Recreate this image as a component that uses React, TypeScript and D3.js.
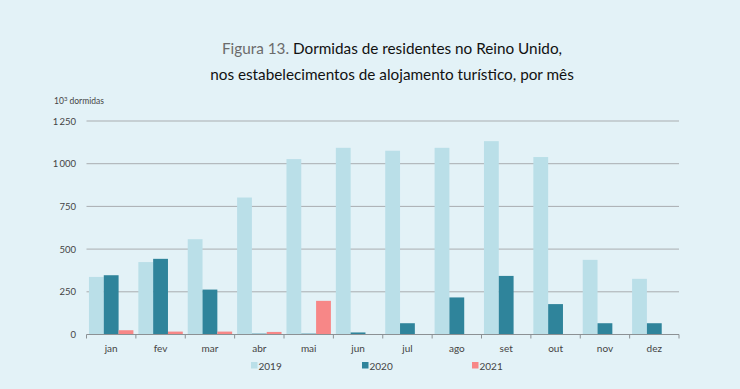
import * as React from 'react';
import * as d3 from 'd3';

const months = ['jan', 'fev', 'mar', 'abr', 'mai', 'jun', 'jul', 'ago', 'set', 'out', 'nov', 'dez'];
const years = ['2019', '2020', '2021'];
const v2019 = [337, 424, 558, 802, 1027, 1093, 1076, 1093, 1132, 1039, 437, 326];
const v2020 = [347, 443, 263, 5, 5, 12, 66, 217, 343, 178, 66, 66];
const v2021 = [25, 17, 17, 15, 197, 0, 0, 0, 0, 0, 0, 0];
const yTicks = [0, 250, 500, 750, 1000, 1250];
const colors = ['#badfe8', '#2f849b', '#f78787'];

const W = 740, H = 389;
const FONT = 'Lato, "Open Sans", sans-serif';

export default function App() {
  const ref = React.useRef<SVGSVGElement>(null);

  React.useEffect(() => {
    document.body.style.margin = '0';
    const svg = d3.select(ref.current);
    svg.selectAll('*').remove();

    const left = 86.5, right = 679, top = 121, bottom = 334.5;
    const x0 = d3.scaleBand().domain(months).range([left, right]).paddingInner(0.1).paddingOuter(0.05);
    const x1 = d3.scaleBand().domain(years).range([0, x0.bandwidth()]);
    const y = d3.scaleLinear().domain([0, 1250]).range([bottom, top]);
    const series = [v2019, v2020, v2021];

    svg.append('rect').attr('width', W).attr('height', H).attr('fill', '#e3f2f7');

    // title
    const t1 = svg.append('text').attr('x', 392).attr('y', 54).attr('text-anchor', 'middle')
      .attr('font-family', FONT).attr('font-size', 15.3).attr('fill', '#111');
    t1.append('tspan').attr('fill', '#6b6b6b').text('Figura 13. ');
    t1.append('tspan').text('Dormidas de residentes no Reino Unido,');
    svg.append('text').attr('x', 392).attr('y', 80).attr('text-anchor', 'middle')
      .attr('font-family', FONT).attr('font-size', 15.3).attr('fill', '#111')
      .text('nos estabelecimentos de alojamento turístico, por mês');

    // unit label
    const u = svg.append('text').attr('x', 54).attr('y', 104)
      .attr('font-family', FONT).attr('font-size', 8.5).attr('fill', '#444');
    u.append('tspan').text('10');
    u.append('tspan').attr('font-size', 6).attr('dy', -3).text('3');
    u.append('tspan').attr('dy', 3).text(' dormidas');

    // grid
    svg.append('g').selectAll('line').data(yTicks.filter(d => d > 0)).join('line')
      .attr('x1', left).attr('x2', right)
      .attr('y1', d => y(d)).attr('y2', d => y(d))
      .attr('stroke', '#a9adb0').attr('stroke-width', 1);

    svg.append('g').selectAll('text').data(yTicks).join('text')
      .attr('x', 76).attr('y', d => y(d) + 3.5).attr('text-anchor', 'end')
      .attr('font-family', FONT).attr('font-size', 9.5).attr('fill', '#444')
      .text(d => d3.format(',')(d).replace(',', '\u2009'));

    // bars
    const g = svg.append('g');
    months.forEach((m, i) => {
      series.forEach((s, j) => {
        const v = s[i];
        if (!v) return;
        g.append('rect')
          .attr('x', (x0(m) as number) + (x1(years[j]) as number))
          .attr('width', x1.bandwidth())
          .attr('y', y(v))
          .attr('height', y(0) - y(v))
          .attr('fill', colors[j]);
      });
    });

    // baseline + ticks
    svg.append('line').attr('x1', left).attr('x2', right).attr('y1', bottom).attr('y2', bottom)
      .attr('stroke', '#8c9194').attr('stroke-width', 1);
    const edges = months.map(m => (x0(m) as number) - x0.step() * x0.paddingInner() / 2);
    edges.push(right);
    svg.append('g').selectAll('line').data(edges).join('line')
      .attr('x1', d => d).attr('x2', d => d).attr('y1', bottom).attr('y2', bottom + 4)
      .attr('stroke', '#8c9194');

    svg.append('g').selectAll('text').data(months).join('text')
      .attr('x', m => (x0(m) as number) + x0.bandwidth() / 2).attr('y', 352)
      .attr('text-anchor', 'middle').attr('font-family', FONT).attr('font-size', 10).attr('fill', '#444')
      .text(m => m);

    // legend
    const lx = [251, 362, 472];
    years.forEach((yr, j) => {
      svg.append('rect').attr('x', lx[j]).attr('y', 362).attr('width', 6.5).attr('height', 6.5).attr('fill', colors[j]);
      svg.append('text').attr('x', lx[j] + 7.5).attr('y', 369.5)
        .attr('font-family', FONT).attr('font-size', 10).attr('fill', '#444').text(yr);
    });
  }, []);

  return <svg ref={ref} width={W} height={H} style={{ display: 'block' }} />;
}
